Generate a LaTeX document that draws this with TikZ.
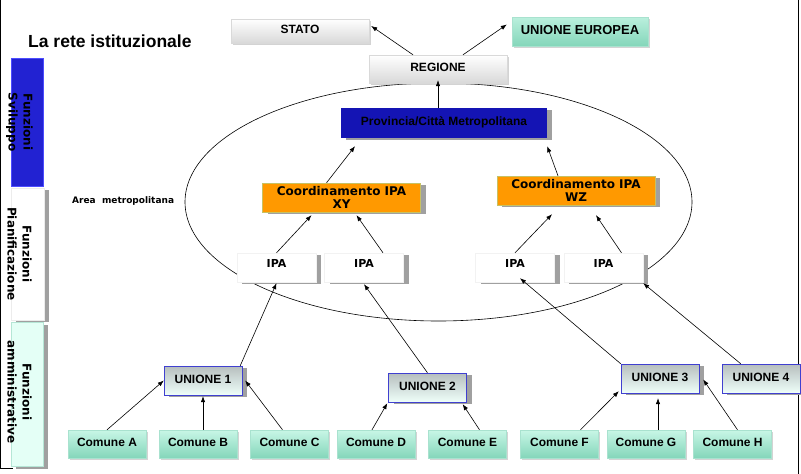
\documentclass[tikz,border=0pt]{standalone}
\usepackage{fontspec}
\setmainfont{Liberation Sans}
\newfontfamily\dejavu{DejaVu Sans}
\usetikzlibrary{arrows.meta,shadows}
\definecolor{verdechiaro}{RGB}{200,246,230}
\definecolor{verdescuro}{RGB}{132,214,186}
\definecolor{grigioun}{RGB}{182,190,190}
\definecolor{bordoun}{RGB}{64,64,208}
\definecolor{blupro}{RGB}{20,20,180}
\definecolor{arancio}{RGB}{255,153,0}
\definecolor{ombra}{RGB}{160,160,160}
\definecolor{blusvil}{RGB}{34,34,210}
\definecolor{mentina}{RGB}{228,255,246}
\tikzset{
  testo/.style={font=\bfseries\fontsize{12}{14}\selectfont, inner sep=0pt,
    text height=8pt, text depth=3pt},
  ombra morbida/.style={drop shadow={shadow xshift=1.5pt, shadow yshift=-1.5pt, opacity=.35}},
  ombra piena/.style={drop shadow={shadow xshift=5pt, shadow yshift=-2pt, fill=ombra, opacity=1}},
  bottone/.style={testo, ombra morbida, draw=gray!30, top color=white, bottom color=gray!30,
    minimum width=138pt, minimum height=28pt},
  comune/.style={testo, ombra morbida, draw=verdescuro!70, top color=verdechiaro,
    bottom color=verdescuro, minimum width=78pt, minimum height=28pt},
  unione/.style={testo, ombra piena, draw=bordoun, top color=grigioun, bottom color=mentina!60,
    minimum width=78pt, minimum height=29pt},
  ipa/.style={ombra piena, draw=gray!10, fill=white, inner sep=0pt, minimum width=79pt,
    minimum height=29pt, font=\dejavu\bfseries\fontsize{11}{13}\selectfont,
    text height=6pt, text depth=6pt},
  coord/.style={ombra piena, draw=olive!50, fill=arancio, inner sep=0pt, minimum width=158pt,
    minimum height=29pt, align=center, font=\dejavu\bfseries\fontsize{12}{13}\selectfont},
  funzioni/.style={rotate=-90, align=center, inner sep=0pt,
    font=\dejavu\bfseries\fontsize{12}{15}\selectfont},
  freccia/.style={->, line width=.6pt}
}
\begin{document}
\begin{tikzpicture}[x=1pt,y=-1pt,>={Latex[length=6pt,width=4.5pt]}]
\useasboundingbox (0,0) rectangle (801,474);
%\draw[step=10,gray,very thin] (0,0) grid (801,474);
\draw[line width=1pt] (0.5,0) -- (0.5,468) -- (13,468);
\draw[line width=1pt] (798,0) -- (798,474);
\node[anchor=base west, font=\bfseries\fontsize{17.5}{20}\selectfont, inner sep=0pt] (titolo) at (28,47) {La rete istituzionale};
% colonna delle funzioni
\node[draw=blue!70!white, fill=blusvil, minimum width=32pt, minimum height=128pt, inner sep=0pt] (svil) at (27,122.5) {};
\node[ombra piena, draw=gray!15, fill=white, minimum width=33pt, minimum height=132pt, inner sep=0pt] (pian) at (27.5,254) {};
\node[ombra piena, draw=verdescuro!60, fill=mentina, minimum width=32pt, minimum height=144pt, inner sep=0pt] (amm) at (27,394.5) {};
\node[funzioni] (sviltxt) at (19.5,122) {Funzioni\\Sviluppo};
\node[funzioni] (piantxt) at (19.5,254) {Funzioni\\Pianificazione};
\node[funzioni] (ammtxt) at (19.5,392) {Funzioni\\amministrative};
% area metropolitana
\draw[line width=.6pt] (438.5,202) ellipse [x radius=253.5pt, y radius=119pt];
\node[anchor=base west, font=\dejavu\bfseries\fontsize{9}{11}\selectfont, inner sep=0pt] (area) at (72,203) {Area\ \ metropolitana};
% livelli alti
\node[bottone, minimum height=24pt] (stato) at (300,31) {STATO};
\node[bottone, draw=verdescuro!70, top color=verdechiaro!80!verdescuro, bottom color=verdescuro,
  minimum width=136pt, minimum height=29pt, font=\bfseries\fontsize{13}{15}\selectfont] (ue) at (580,31.5) {UNIONE EUROPEA};
\node[bottone] (regione) at (438,69) {REGIONE};
\node[testo, ombra piena, fill=blupro, minimum width=206pt, minimum height=30pt] (prov) at (444,123) {Provincia/Città Metropolitana};
\node[coord] (xy) at (341.5,197.5) {Coordinamento IPA\\XY};
\node[coord] (wz) at (576,190.5) {Coordinamento IPA\\WZ};
\node[ipa] (ipa1) at (276.5,267.5) {IPA};
\node[ipa] (ipa2) at (364,267.5) {IPA};
\node[ipa] (ipa3) at (515,267.5) {IPA};
\node[ipa] (ipa4) at (603.5,267.5) {IPA};
% unioni e comuni
\node[unione] (un1) at (203,380.5) {UNIONE 1};
\node[unione] (un2) at (427.5,387.5) {UNIONE 2};
\node[unione] (un3) at (660,378.5) {UNIONE 3};
\node[unione] (un4) at (761,378.5) {UNIONE 4};
\node[comune] (coma) at (107,444) {Comune A};
\node[comune] (comb) at (198,444) {Comune B};
\node[comune] (comc) at (289.5,444) {Comune C};
\node[comune] (comd) at (376,444) {Comune D};
\node[comune] (come) at (467.5,444) {Comune E};
\node[comune] (comf) at (559.5,444) {Comune F};
\node[comune] (comg) at (646,444) {Comune G};
\node[comune] (comh) at (732.5,444) {Comune H};
% frecce
\draw[freccia] ([xshift=-25pt]regione.north) -- ([xshift=2pt,yshift=5pt]stato.east);
\draw[freccia] ([xshift=25pt]regione.north) -- ([xshift=-5pt,yshift=7pt]ue.west);
\draw[freccia] (prov.north -| regione.south) -- ([yshift=3pt]regione.south);
\draw[freccia] ([xshift=-15pt]xy.north) -- ([xshift=-89pt,yshift=-8pt]prov.south);
\draw[freccia] ([xshift=-18pt]wz.north) -- ([yshift=-8pt]prov.south east);
\draw[freccia] (ipa1.north) -- ([xshift=-30pt,yshift=-3pt]xy.south);
\draw[freccia] ([xshift=19pt]ipa2.north) -- ([xshift=15pt,yshift=-3pt]xy.south);
\draw[freccia] (ipa3.north) -- ([xshift=-24pt,yshift=-9pt]wz.south);
\draw[freccia] ([xshift=18pt]ipa4.north) -- ([xshift=20pt,yshift=-10pt]wz.south);
\draw[freccia] ([xshift=-2pt]un1.north east) -- ([yshift=-1pt]ipa1.south);
\draw[freccia] (un2.north) -- ([yshift=-2pt]ipa2.south);
\draw[freccia] (un3.north west) -- ([xshift=5pt,yshift=4pt]ipa3.south);
\draw[freccia] ([xshift=19pt]un4.north west) -- ([yshift=-1pt]ipa4.south east);
\draw[freccia] (coma.north) -- (un1.west);
\draw[freccia] (un1.south |- comb.north) -- ([yshift=-1pt]un1.south);
\draw[freccia] ([xshift=-7pt]comc.north) -- ([xshift=3pt]un1.east);
\draw[freccia] ([xshift=-4pt]comd.north) -- ([xshift=-1pt,yshift=-1pt]un2.south west);
\draw[freccia] ([xshift=12pt]come.north) -- ([xshift=-4pt,yshift=-2pt]un2.south east);
\draw[freccia] ([xshift=21pt]comf.north) -- ([xshift=-2pt,yshift=2pt]un3.south west);
\draw[freccia] ([xshift=-2pt]un3.south |- comg.north) -- ([xshift=-2pt,yshift=-5pt]un3.south);
\draw[freccia] ([xshift=5pt]comh.north) -- ([xshift=4pt,yshift=-1pt]un3.east);
\end{tikzpicture}
\end{document}
